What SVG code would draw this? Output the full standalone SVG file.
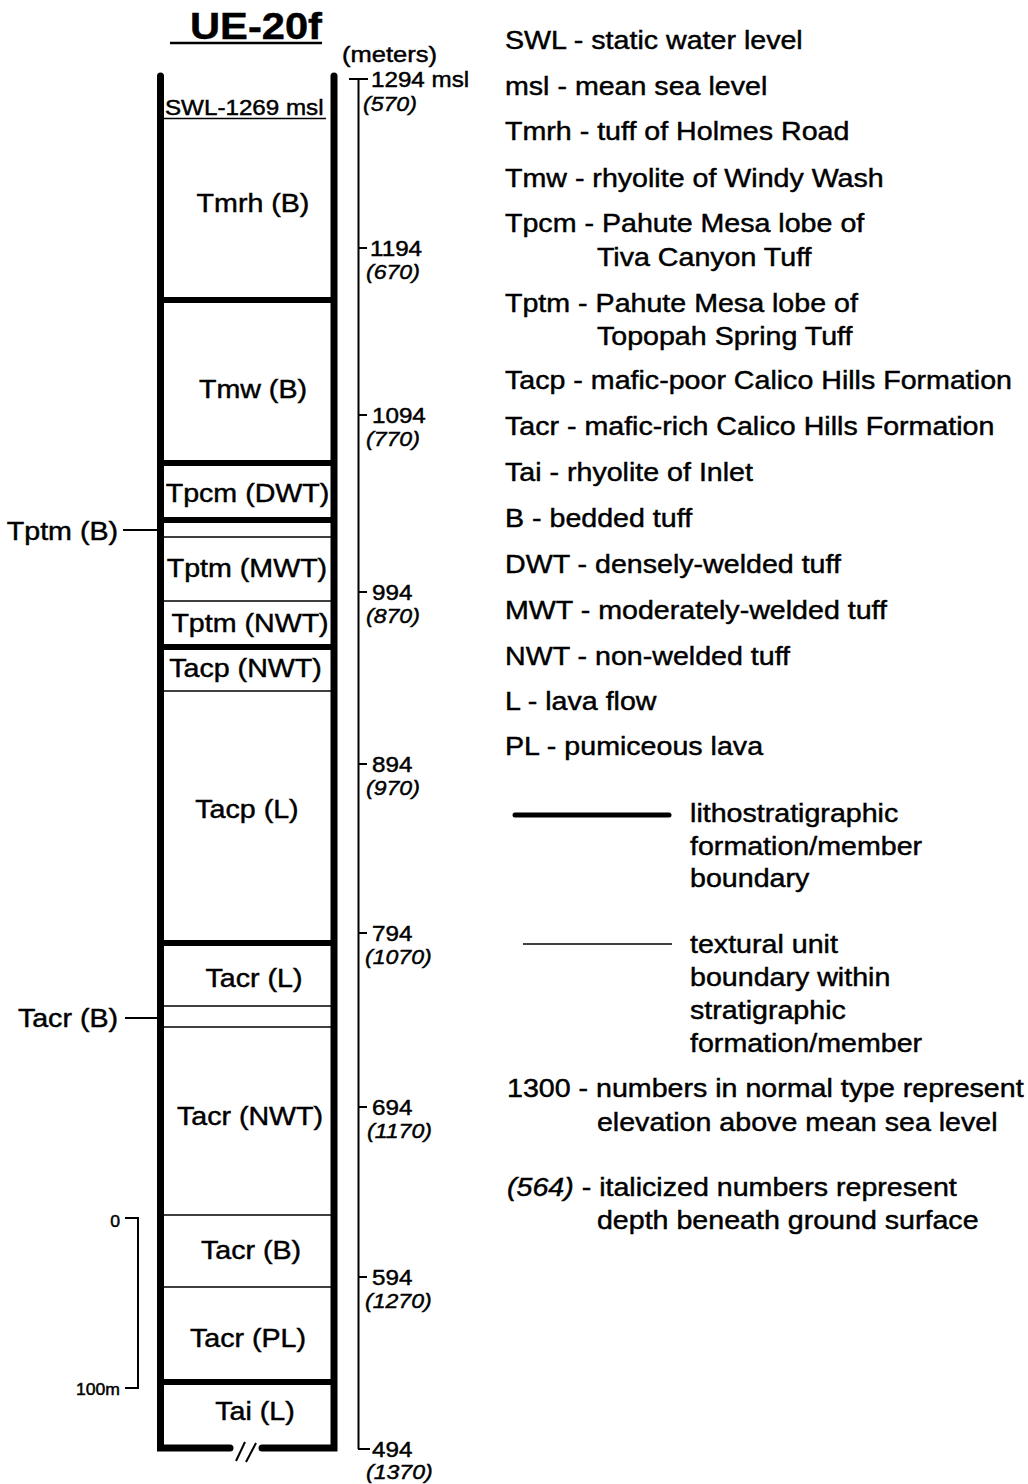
<svg xmlns="http://www.w3.org/2000/svg" width="1028" height="1484" viewBox="0 0 1028 1484">
<style>
text { font-family: "Liberation Sans", Arial, Helvetica, sans-serif; fill: #000; stroke: #000; stroke-width: 0.45; }
.lbl { font-size: 26px; text-anchor: middle; }
.side { font-size: 26px; text-anchor: end; }
.num { font-size: 22px; }
.dep { font-size: 21px; font-style: italic; }
.leg { font-size: 26px; }
.small { font-size: 16px; text-anchor: end; }
.wall { fill: none; stroke: #000; stroke-width: 7; stroke-linecap: round; stroke-linejoin: miter; }
.thick { stroke: #000; stroke-width: 6; }
.thin { stroke: #000; stroke-width: 1.5; }
.ln { stroke: #000; stroke-width: 2; fill: none; }
</style>
<rect x="0" y="0" width="1028" height="1484" fill="#fff"/>

<g id="title">
  <text x="190" y="39" font-size="36" font-weight="bold" textLength="132" lengthAdjust="spacingAndGlyphs">UE-20f</text>
  <line x1="170" y1="43" x2="322" y2="43" stroke="#000" stroke-width="2.5"/>
  <text x="342" y="62" font-size="22" textLength="95" lengthAdjust="spacingAndGlyphs">(meters)</text>
</g>

<g id="column">
  <path class="wall" d="M160.5,76 V1448 H230"/>
  <path class="wall" d="M262,1448 H334 V76"/>
  <line class="ln" x1="236" y1="1461" x2="245" y2="1442"/>
  <line class="ln" x1="246" y1="1462" x2="256" y2="1443"/>
  <g id="boundaries-thick">
    <line class="thick" x1="160" y1="300" x2="334" y2="300"/>
    <line class="thick" x1="160" y1="463" x2="334" y2="463"/>
    <line class="thick" x1="160" y1="520" x2="334" y2="520"/>
    <line class="thick" x1="160" y1="647" x2="334" y2="647"/>
    <line class="thick" x1="160" y1="943" x2="334" y2="943"/>
    <line class="thick" x1="160" y1="1382" x2="334" y2="1382"/>
  </g>
  <g id="boundaries-thin">
    <line class="thin" x1="163" y1="537" x2="331" y2="537"/>
    <line class="thin" x1="163" y1="601" x2="331" y2="601"/>
    <line class="thin" x1="163" y1="691" x2="331" y2="691"/>
    <line class="thin" x1="163" y1="1006" x2="331" y2="1006"/>
    <line class="thin" x1="163" y1="1027" x2="331" y2="1027"/>
    <line class="thin" x1="163" y1="1215" x2="331" y2="1215"/>
    <line class="thin" x1="163" y1="1287" x2="331" y2="1287"/>
  </g>
</g>

<g id="swl">
  <g transform="scale(1.1,1)"><text x="150" y="115" font-size="22">SWL-1269 msl</text></g>
  <line x1="163" y1="118.5" x2="326" y2="118.5" stroke="#000" stroke-width="1.5"/>
</g>

<g id="units" transform="scale(1.1,1)">
  <g id="unit-tmrh-b"><text class="lbl" x="230" y="212">Tmrh (B)</text></g>
  <g id="unit-tmw-b"><text class="lbl" x="230" y="398">Tmw (B)</text></g>
  <g id="unit-tpcm-dwt"><text class="lbl" x="225" y="502">Tpcm (DWT)</text></g>
  <g id="unit-tptm-mwt"><text class="lbl" x="224.5" y="577">Tptm (MWT)</text></g>
  <g id="unit-tptm-nwt"><text class="lbl" x="227.3" y="632">Tptm (NWT)</text></g>
  <g id="unit-tacp-nwt"><text class="lbl" x="223.2" y="677">Tacp (NWT)</text></g>
  <g id="unit-tacp-l"><text class="lbl" x="224.5" y="818">Tacp (L)</text></g>
  <g id="unit-tacr-l"><text class="lbl" x="230.9" y="987">Tacr (L)</text></g>
  <g id="unit-tacr-nwt"><text class="lbl" x="227.3" y="1125">Tacr (NWT)</text></g>
  <g id="unit-tacr-b"><text class="lbl" x="228.2" y="1259">Tacr (B)</text></g>
  <g id="unit-tacr-pl"><text class="lbl" x="225.5" y="1347">Tacr (PL)</text></g>
  <g id="unit-tai-l"><text class="lbl" x="231.8" y="1420">Tai (L)</text></g>
  <g id="unit-tptm-b-side"><text class="side" x="107.3" y="540">Tptm (B)</text></g>
  <g id="unit-tacr-b-side"><text class="side" x="107.3" y="1027">Tacr (B)</text></g>
</g>

<g id="connectors">
  <line class="ln" x1="123" y1="530" x2="157" y2="530"/>
  <line class="ln" x1="125" y1="1018" x2="157" y2="1018"/>
</g>

<g id="elevation-scale">
  <line class="ln" x1="358.5" y1="79" x2="358.5" y2="1449"/>
  <line class="ln" x1="349" y1="79" x2="368" y2="79"/>
  <line class="ln" x1="358" y1="248" x2="367" y2="248"/>
  <line class="ln" x1="358" y1="415" x2="367" y2="415"/>
  <line class="ln" x1="358" y1="592" x2="367" y2="592"/>
  <line class="ln" x1="358" y1="764" x2="367" y2="764"/>
  <line class="ln" x1="358" y1="933" x2="367" y2="933"/>
  <line class="ln" x1="358" y1="1107" x2="367" y2="1107"/>
  <line class="ln" x1="358" y1="1277" x2="367" y2="1277"/>
  <line class="ln" x1="358" y1="1449" x2="370" y2="1449"/>
  <g transform="scale(1.1,1)">
    <text class="num" x="337.3" y="87">1294 msl</text>
    <text class="dep" x="330" y="111">(570)</text>
    <text class="num" x="336.4" y="256">1194</text>
    <text class="dep" x="332.7" y="279">(670)</text>
    <text class="num" x="338.2" y="423">1094</text>
    <text class="dep" x="332.7" y="446">(770)</text>
    <text class="num" x="338.2" y="600">994</text>
    <text class="dep" x="332.7" y="623">(870)</text>
    <text class="num" x="338.2" y="772">894</text>
    <text class="dep" x="332.7" y="795">(970)</text>
    <text class="num" x="338.2" y="941">794</text>
    <text class="dep" x="331.8" y="964">(1070)</text>
    <text class="num" x="338.2" y="1115">694</text>
    <text class="dep" x="333.6" y="1138">(1170)</text>
    <text class="num" x="338.2" y="1285">594</text>
    <text class="dep" x="331.8" y="1308">(1270)</text>
    <text class="num" x="338.2" y="1457">494</text>
    <text class="dep" x="332.7" y="1479">(1370)</text>
  </g>
</g>

<g id="scale-bar">
  <path class="ln" d="M125,1218 H138 V1388 H125"/>
  <g transform="scale(1.1,1)">
    <text class="small" x="109.1" y="1227">0</text>
    <text class="small" x="109.1" y="1395">100m</text>
  </g>
</g>

<g id="legend">
  <line x1="515" y1="815" x2="669" y2="815" stroke="#000" stroke-width="5" stroke-linecap="round"/>
  <line x1="523" y1="944" x2="672" y2="944" stroke="#000" stroke-width="1.5"/>
  <g transform="scale(1.1,1)">
    <text class="leg" x="459.1" y="49">SWL - static water level</text>
    <text class="leg" x="459.1" y="95">msl - mean sea level</text>
    <text class="leg" x="459.1" y="140">Tmrh - tuff of Holmes Road</text>
    <text class="leg" x="459.1" y="187">Tmw - rhyolite of Windy Wash</text>
    <text class="leg" x="459.1" y="232">Tpcm - Pahute Mesa lobe of</text>
    <text class="leg" x="542.7" y="266">Tiva Canyon Tuff</text>
    <text class="leg" x="459.1" y="312">Tptm - Pahute Mesa lobe of</text>
    <text class="leg" x="542.7" y="345">Topopah Spring Tuff</text>
    <text class="leg" x="459.1" y="389">Tacp - mafic-poor Calico Hills Formation</text>
    <text class="leg" x="459.1" y="435">Tacr - mafic-rich Calico Hills Formation</text>
    <text class="leg" x="459.1" y="481">Tai - rhyolite of Inlet</text>
    <text class="leg" x="459.1" y="527">B - bedded tuff</text>
    <text class="leg" x="459.1" y="573">DWT - densely-welded tuff</text>
    <text class="leg" x="459.1" y="619">MWT - moderately-welded tuff</text>
    <text class="leg" x="459.1" y="665">NWT - non-welded tuff</text>
    <text class="leg" x="459.1" y="710">L - lava flow</text>
    <text class="leg" x="459.1" y="755">PL - pumiceous lava</text>
    <text class="leg" x="627.3" y="822">lithostratigraphic</text>
    <text class="leg" x="627.3" y="855">formation/member</text>
    <text class="leg" x="627.3" y="887">boundary</text>
    <text class="leg" x="627.3" y="953">textural unit</text>
    <text class="leg" x="627.3" y="986">boundary within</text>
    <text class="leg" x="627.3" y="1019">stratigraphic</text>
    <text class="leg" x="627.3" y="1052">formation/member</text>
    <text class="leg" x="460.9" y="1097">1300 - numbers in normal type represent</text>
    <text class="leg" x="542.7" y="1131">elevation above mean sea level</text>
    <text class="leg" x="460.9" y="1196"><tspan font-style="italic">(564)</tspan> - italicized numbers represent</text>
    <text class="leg" x="542.7" y="1229">depth beneath ground surface</text>
  </g>
</g>
</svg>
